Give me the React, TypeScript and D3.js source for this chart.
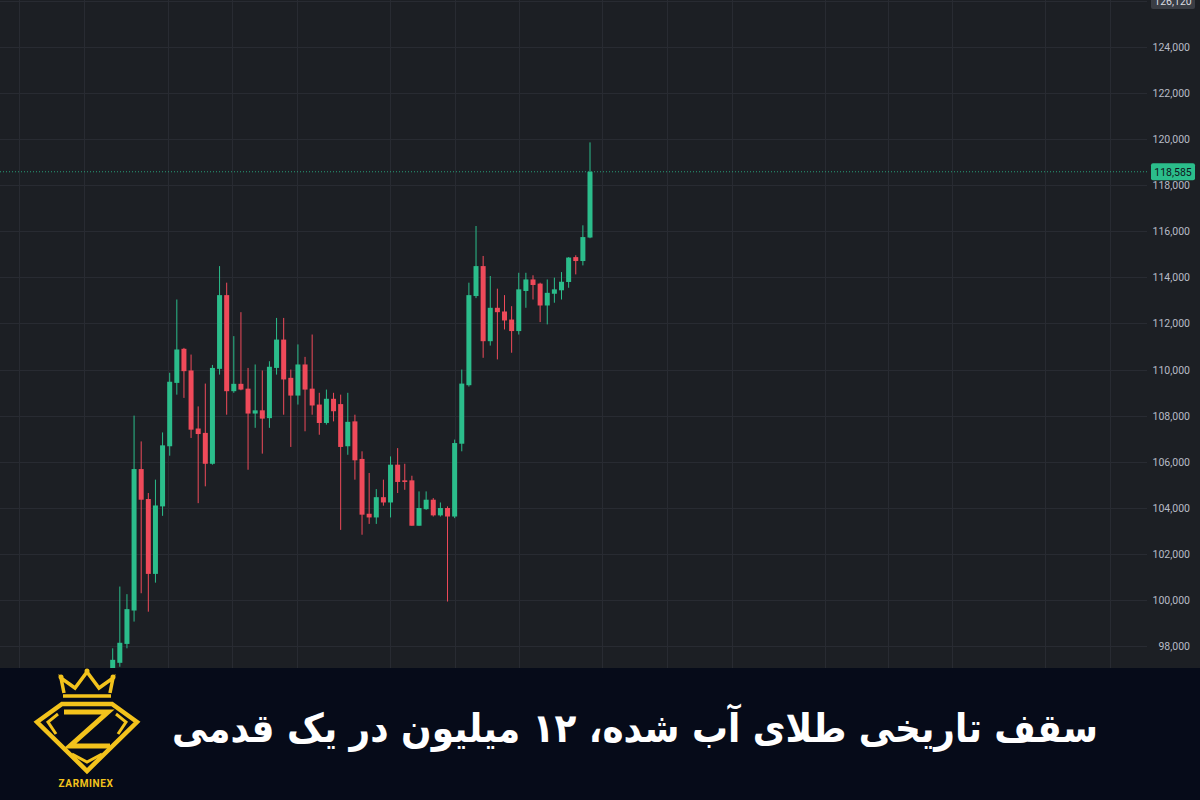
import React from "react";
import * as d3 from "d3";

// OHLC values (index 0 = first visible candle)
const opens = [97000, 97270, 98090, 99540, 105680, 104380, 101130, 104060, 106670, 109420, 110900, 109960, 107440, 107250, 105910, 110030, 113230, 109060, 109380, 109170, 108090, 108230, 107890, 110070, 111300, 109640, 108870, 110220, 109170, 108480, 107680, 108730, 108500, 106670, 107750, 106120, 103740, 103580, 104460, 104230, 105870, 105190, 105190, 103220, 103940, 104350, 103670, 103990, 103620, 106780, 109320, 113190, 114490, 111230, 112680, 112520, 112170, 111670, 113410, 113910, 113730, 112780, 113290, 113440, 113800, 114880, 114710, 115730];
const highs = [97900, 100580, 100250, 108000, 106880, 104640, 105220, 107270, 109860, 113040, 110940, 110650, 108400, 109390, 110200, 114490, 113770, 111450, 112490, 110070, 110220, 109960, 110360, 112240, 112240, 110000, 111090, 110550, 111520, 108990, 109130, 108990, 108910, 108990, 108040, 106450, 105510, 104810, 105220, 106230, 106590, 105910, 105390, 104710, 104710, 104420, 104230, 104060, 106960, 110000, 113770, 116230, 114930, 114060, 113510, 113230, 112750, 114200, 114200, 114090, 113770, 113910, 113990, 114230, 114880, 114960, 116260, 119860];
const lows = [96800, 97100, 97900, 99060, 100290, 99490, 100750, 103650, 106260, 108910, 108770, 107030, 104200, 104930, 105870, 109780, 108040, 108990, 109100, 105650, 107470, 106350, 107470, 109780, 108040, 106640, 108480, 107320, 108040, 107170, 107610, 107750, 103040, 106300, 105220, 102830, 103300, 103300, 104090, 103580, 104640, 104780, 103220, 103220, 103910, 103620, 103620, 99930, 103550, 106450, 109260, 113100, 110510, 111040, 110440, 111740, 110730, 111520, 112680, 113040, 112060, 111960, 112900, 113040, 113550, 114130, 114520, 115700];
const closes = [97400, 98140, 99600, 105680, 104350, 101130, 104100, 106710, 109470, 110870, 109930, 107390, 107200, 105910, 110070, 113230, 109060, 109380, 109130, 108090, 108230, 107870, 110120, 111300, 109570, 108870, 110220, 109130, 108440, 107680, 108730, 108190, 106640, 107730, 106060, 103700, 103580, 104460, 104230, 105870, 105120, 105120, 103220, 103990, 104350, 103670, 103990, 103620, 106810, 109390, 113230, 114490, 111230, 112680, 112490, 112130, 111670, 113480, 113910, 113670, 112780, 113330, 113480, 113810, 114860, 114710, 115750, 118585];

const priceTicks = [98000, 100000, 102000, 104000, 106000, 108000, 110000, 112000, 114000, 116000, 118000, 120000, 122000, 124000, 126000];
const timeGridX = [19, 84, 168, 232, 297, 390, 455, 519, 602, 667, 732, 825, 888, 952, 1045, 1110];
const lastPrice = 118585;
const lastPriceLabel = "118,585";
const topLabel = "126,120";
const title = "سقف تاریخی طلای آب شده، ۱۲ میلیون در یک قدمی";
const brand = "ZARMINEX";

const W = 1200;
const H = 800;
const chartBottom = 668;
const plotRight = 1147;
const UP = "#2bbd8b";
const DOWN = "#ef4a5a";
const BG = "#1c1f24";
const GRID = "#282b32";
const GOLD = "#f3c31c";

export default function App() {
  const n = opens.length;
  const x = d3.scaleLinear().domain([0, n - 1]).range([112.7, 590]);
  const y = d3.scaleLinear().domain([98000, 124000]).range([646, 47]);
  const fmt = d3.format(",");
  const bodyW = 5;

  return (
    <div style={{ position: "fixed", left: 0, top: 0, width: W, height: H }}>
      <svg width={W} height={H} style={{ display: "block" }}>
        <rect x={0} y={0} width={W} height={chartBottom} fill={BG} />
        {/* grid */}
        {timeGridX.map((gx, i) => (
          <line key={"v" + i} x1={gx + 0.5} x2={gx + 0.5} y1={0} y2={chartBottom} stroke={GRID} strokeWidth={1} />
        ))}
        {priceTicks.map((t) => (
          <line key={"h" + t} x1={0} x2={plotRight} y1={Math.round(y(t)) + 0.5} y2={Math.round(y(t)) + 0.5} stroke={GRID} strokeWidth={1} />
        ))}
        {/* candles */}
        {opens.map((o, i) => {
          const c = closes[i];
          const col = c >= o ? UP : DOWN;
          const cx = x(i);
          const top = y(Math.max(o, c));
          const bot = y(Math.min(o, c));
          return (
            <g key={"c" + i}>
              <line x1={cx} x2={cx} y1={y(highs[i])} y2={y(lows[i])} stroke={col} strokeWidth={1} />
              <rect x={cx - bodyW / 2} y={top} width={bodyW} height={Math.max(1, bot - top)} fill={col} />
            </g>
          );
        })}
        {/* last price line */}
        <line x1={0} x2={plotRight} y1={y(lastPrice)} y2={y(lastPrice)} stroke={UP} strokeWidth={1} strokeDasharray="1,2" opacity={0.8} />
        {/* price axis labels */}
        {priceTicks.map((t) => (
          <text key={"t" + t} x={1190} y={y(t) + 4} textAnchor="end" fontFamily="Roboto, sans-serif" fontSize={10.5} fill="#b8bcc6">
            {fmt(t)}
          </text>
        ))}
        <rect x={1151} y={-9} width={44} height={18} rx={2} fill="#3a3d44" />
        <text x={1173} y={5} textAnchor="middle" fontFamily="Roboto, sans-serif" fontSize={10.5} fill="#d9dbe0">{topLabel}</text>
        <rect x={1151} y={y(lastPrice) - 8.5} width={44} height={17} rx={2} fill={UP} />
        <text x={1173} y={y(lastPrice) + 4} textAnchor="middle" fontFamily="Roboto, sans-serif" fontSize={10.5} fill="#10151c">{lastPriceLabel}</text>

        {/* banner */}
        <rect x={0} y={chartBottom} width={W} height={H - chartBottom} fill="#060b19" />
        <text x={1098} y={742} textAnchor="start" direction="rtl" fontFamily="'DejaVu Sans', sans-serif" fontWeight="bold" fontSize={40} textLength={926} lengthAdjust="spacingAndGlyphs" fill="#ffffff">
          {title}
        </text>
        {/* logo */}
        <g fill="none" stroke={GOLD} strokeLinejoin="miter">
          <polyline points="64,693 61,678 75,688 87,672 99,688 113,678 110,693" strokeWidth={3.5} />
          <line x1={63} x2={111} y1={696} y2={696} strokeWidth={3.5} />
          <polygon points="62,704 112,704 137,722 87,771 37,722" strokeWidth={4.5} />
          <polyline points="64,712 108,712 70,746 110,746" strokeWidth={5} />
          <polyline points="58,714 48,722 56,734" strokeWidth={3} />
          <polyline points="116,714 126,722 118,734" strokeWidth={3} />
          <polyline points="72,754 87,762 102,754" strokeWidth={3} />
        </g>
        <circle cx={61} cy={677} r={2.5} fill={GOLD} />
        <circle cx={87} cy={671} r={2.5} fill={GOLD} />
        <circle cx={113} cy={677} r={2.5} fill={GOLD} />
        <text x={86} y={787} textAnchor="middle" fontFamily="Roboto, sans-serif" fontWeight="bold" fontSize={10} letterSpacing={0.6} fill={GOLD}>
          {brand}
        </text>
      </svg>
    </div>
  );
}
